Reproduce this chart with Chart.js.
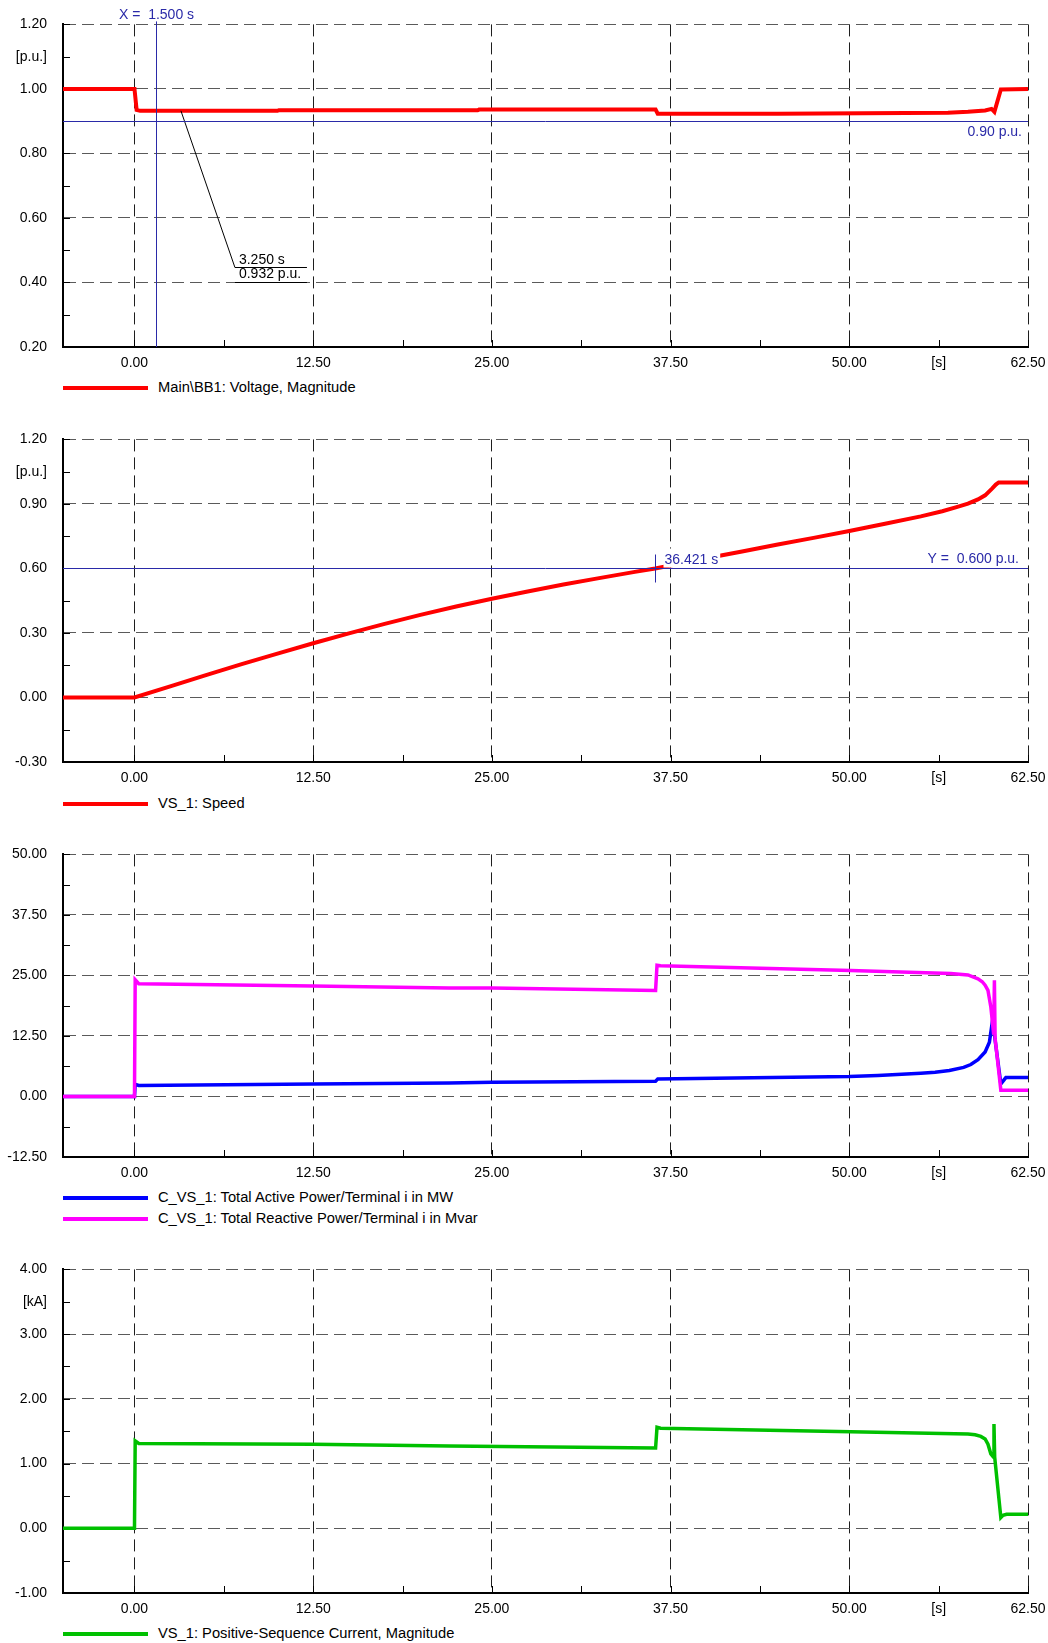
<!DOCTYPE html>
<html lang="en">
<head>
<meta charset="UTF-8">
<title>VS_1 Motor Start</title>
<script src="https://cdn.jsdelivr.net/npm/chart.js"></script>
<style>
    body {
        margin: 0;
        background: #fff;
        width: 1048px;
        height: 1643px;
        position: relative;
        overflow: hidden;
        font-family: 'Liberation Sans', Arial, sans-serif;
        font-size: 14px;
    }
    canvas { position: absolute; left: 0; }
    .legend {
        position: absolute;
        left: 63px;
        height: 18px;
        line-height: 18px;
        font-size: 14.7px;
        color: #000;
        white-space: nowrap;
    }
    .legend .swatch {
        display: inline-block;
        width: 85px;
        height: 4px;
        vertical-align: middle;
        margin-right: 10px;
    }
</style>
</head>
<body>
<canvas id="voltage" width="1048" height="377" style="top:0px"></canvas>
<canvas id="speed" width="1048" height="377" style="top:415px"></canvas>
<canvas id="power" width="1048" height="357" style="top:830px"></canvas>
<canvas id="current" width="1048" height="378" style="top:1245px"></canvas>

<script>
// time axis
const timeMajor = [0, 12.5, 25, 37.5, 50, 62.5];
const timeUnitAt = 56.25;

// Main\BB1 voltage [p.u.]
const voltageT = [-5, 0, 0.15, 0.4, 10, 10.1, 24, 24.1, 36.45, 36.6, 45, 56.9, 58.3, 59.5, 59.95, 60.15, 60.6, 62.5];
const voltageV = [1.0, 1.0, 0.935, 0.932, 0.932, 0.934, 0.934, 0.936, 0.936, 0.923, 0.923, 0.926, 0.929, 0.933, 0.938, 0.929, 0.998, 1.0];
const voltageTicks = [0.2, 0.4, 0.6, 0.8, 1.0, 1.2];

// VS_1 speed [p.u.]
const speedT = [-5, 0, 2.5, 5, 7.5, 10, 12.5, 15, 17.5, 20, 22.5, 25, 27.5, 30, 32.5, 35, 36.42, 37.5, 40, 42.5, 45, 47.5, 50, 52.5, 55, 56.5, 57.5, 58.3, 59, 59.5, 60, 60.25, 60.45, 62.5];
const speedV = [0, 0, 0.052, 0.104, 0.155, 0.204, 0.252, 0.298, 0.342, 0.384, 0.423, 0.459, 0.493, 0.525, 0.555, 0.584, 0.600, 0.614, 0.647, 0.679, 0.711, 0.742, 0.774, 0.808, 0.842, 0.866, 0.885, 0.901, 0.921, 0.94, 0.972, 0.99, 1.0, 1.0];
const speedTicks = [-0.3, 0, 0.3, 0.6, 0.9, 1.2];

// C_VS_1 active power [MW]
const pT = [-5, 0, 0.05, 0.3, 12.5, 22, 25, 36.45, 36.6, 50, 52, 54, 55, 56, 57, 58, 58.5, 59, 59.5, 59.8, 60.02, 60.6, 60.95, 62.5];
const pV = [0, 0, 2.5, 2.27, 2.6, 2.8, 2.96, 3.17, 3.6, 4.13, 4.35, 4.65, 4.8, 5.0, 5.35, 6.0, 6.6, 7.6, 9.2, 11.2, 15.7, 2.6, 3.9, 3.9];

// C_VS_1 reactive power [Mvar]
const qT = [-5, 0, 0.05, 0.3, 12.5, 22, 25, 36.45, 36.55, 36.8, 50.1, 57.1, 58.3, 59.0, 59.3, 59.5, 59.7, 59.9, 60.1, 60.15, 60.2, 60.6, 62.5];
const qV = [0, 0, 24.1, 23.3, 22.8, 22.4, 22.4, 21.9, 27.1, 27.0, 26.0, 25.4, 25.1, 24.3, 23.7, 23.0, 21.9, 18.5, 12.8, 24.0, 12.0, 1.3, 1.3];
const powerTicks = [-12.5, 0, 12.5, 25, 37.5, 50];

// VS_1 positive-sequence current [kA]
const currT = [-5, 0, 0.05, 0.3, 12.5, 22, 36.45, 36.55, 36.8, 50.1, 58.3, 58.8, 59.2, 59.5, 59.7, 59.9, 60.08, 60.12, 60.17, 60.6, 60.75, 61.0, 62.5];
const currV = [0, 0, 1.35, 1.31, 1.297, 1.27, 1.24, 1.56, 1.545, 1.49, 1.457, 1.445, 1.42, 1.38, 1.3, 1.15, 1.1, 1.61, 1.1, 0.165, 0.2, 0.215, 0.215];
const currentTicks = [-1, 0, 1, 2, 3, 4];

// cursors
const cursorX = 1.5;
const voltageLimit = 0.90;
const voltageMark = { t: 3.25, v: 0.932 };
const speedLevel = 0.600;
const speedCross = 36.421;

const NAVY = '#2a2aa8';
const FONT = "'Liberation Sans', Arial, sans-serif";
Chart.defaults.font.family = FONT;
Chart.defaults.font.size = 14;
Chart.defaults.color = '#000';

const near = (a, b) => Math.abs(a - b) < 1e-6;
const isIn = (list, v) => list.some(m => near(m, v));

function withMinors(major) {
    const out = [];
    major.forEach((m, i) => {
        out.push(m);
        if (i < major.length - 1) out.push((m + major[i + 1]) / 2);
    });
    return out;
}

function series(label, t, v, color, width, order) {
    return {
        label: label,
        data: t.map((x, i) => ({ x: x, y: v[i] })),
        borderColor: color,
        backgroundColor: color,
        borderWidth: width,
        pointRadius: 0,
        tension: 0,
        order: order
    };
}

// inward minor ticks on the left and bottom axes
const axisTicks = {
    id: 'axisTicks',
    beforeDatasetsDraw(chart) {
        const { ctx, chartArea: a, scales: { x, y } } = chart;
        ctx.save();
        ctx.strokeStyle = '#000';
        ctx.lineWidth = 1;
        ctx.beginPath();
        y.ticks.forEach(t => {
            const py = Math.round(y.getPixelForValue(t.value)) + 0.5;
            ctx.moveTo(a.left, py);
            ctx.lineTo(a.left + 7, py);
        });
        x.ticks.forEach(t => {
            const px = Math.round(x.getPixelForValue(t.value)) + 0.5;
            ctx.moveTo(px, a.bottom);
            ctx.lineTo(px, a.bottom - 7);
        });
        ctx.stroke();
        ctx.restore();
    }
};

const annotations = {
    id: 'annotations',
    afterDatasetsDraw(chart, args, opts) {
        if (opts.draw) opts.draw(chart, chart.ctx);
    }
};

function seg(ctx, x1, y1, x2, y2) {
    ctx.beginPath();
    ctx.moveTo(x1, y1);
    ctx.lineTo(x2, y2);
    ctx.stroke();
}

function drawVoltageCursors(chart, ctx) {
    const { chartArea: a, scales: { x, y } } = chart;
    ctx.save();
    ctx.font = '14px ' + FONT;
    ctx.lineWidth = 1;

    // value label with leader line
    const px = x.getPixelForValue(voltageMark.t);
    const py = y.getPixelForValue(voltageMark.v);
    const ex = px + 54, ey = Math.round(py + 156) + 0.5;
    ctx.strokeStyle = '#000';
    ctx.fillStyle = '#000';
    seg(ctx, px, py, ex, ey);
    seg(ctx, ex, ey, ex + 72, ey);
    seg(ctx, ex, ey + 15, ex + 72, ey + 15);
    ctx.textAlign = 'left';
    ctx.textBaseline = 'middle';
    ctx.fillText(voltageMark.t.toFixed(3) + ' s', ex + 4, ey - 7);
    ctx.fillText(voltageMark.v.toFixed(3) + ' p.u.', ex + 4, ey + 7);

    // x cursor and limit line
    ctx.strokeStyle = NAVY;
    ctx.fillStyle = NAVY;
    const cx = Math.round(x.getPixelForValue(cursorX)) + 0.5;
    seg(ctx, cx, a.top - 3, cx, a.bottom);
    ctx.textAlign = 'center';
    ctx.fillText('X =  ' + cursorX.toFixed(3) + ' s', cx, a.top - 9);

    const ly = Math.round(y.getPixelForValue(voltageLimit)) + 0.5;
    seg(ctx, a.left, ly, a.right, ly);
    ctx.textAlign = 'right';
    ctx.fillText(voltageLimit.toFixed(2) + ' p.u.', a.right - 6, ly + 11);
    ctx.restore();
}

function drawSpeedCursors(chart, ctx) {
    const { chartArea: a, scales: { x, y } } = chart;
    ctx.save();
    ctx.font = '14px ' + FONT;
    ctx.lineWidth = 1;
    ctx.textBaseline = 'middle';

    const ly = Math.round(y.getPixelForValue(speedLevel)) + 0.5;
    const mx = Math.round(x.getPixelForValue(speedCross)) + 0.5;
    const txt = speedCross.toFixed(3) + ' s';
    const w = ctx.measureText(txt).width;
    ctx.fillStyle = '#fff';
    ctx.fillRect(mx + 8, ly - 20, w + 3, 19);

    ctx.strokeStyle = NAVY;
    ctx.fillStyle = NAVY;
    seg(ctx, a.left, ly, a.right, ly);
    seg(ctx, mx, ly - 14, mx, ly + 14);
    ctx.textAlign = 'left';
    ctx.fillText(txt, mx + 9, ly - 8);
    ctx.textAlign = 'right';
    ctx.fillText('Y =  ' + speedLevel.toFixed(3) + ' p.u.', a.right - 9, ly - 9);
    ctx.restore();
}

function makePanel(id, datasets, yMajor, unit, draw) {
    const yAll = withMinors(yMajor);
    const tAll = withMinors(timeMajor);
    const yMin = yMajor[0], yMax = yMajor[yMajor.length - 1];
    const chart = new Chart(document.getElementById(id), {
        type: 'line',
        data: { datasets: datasets },
        options: {
            responsive: false,
            animation: false,
            devicePixelRatio: 1,
            layout: { padding: { top: 24, right: 20, left: 0, bottom: 0 } },
            plugins: {
                legend: { display: false },
                tooltip: { enabled: false },
                annotations: { draw: draw }
            },
            scales: {
                x: {
                    type: 'linear',
                    min: -5,
                    max: 62.5,
                    afterBuildTicks: s => { s.ticks = tAll.map(v => ({ value: v })); },
                    afterFit: s => { s.height = 30; s.paddingLeft = 0; s.paddingRight = 0; },
                    grid: {
                        drawTicks: false,
                        lineWidth: 1,
                        color: c => (c.tick && isIn(timeMajor, c.tick.value)) ? '#1e1e1e' : 'rgba(0,0,0,0)'
                    },
                    border: { display: true, color: '#000', width: 2, dash: [12, 6] },
                    ticks: {
                        autoSkip: false,
                        maxRotation: 0,
                        padding: 8,
                        color: '#000',
                        callback: v => isIn(timeMajor, v) ? v.toFixed(2) : (near(v, timeUnitAt) ? '[s]' : '')
                    }
                },
                y: {
                    type: 'linear',
                    min: yMin,
                    max: yMax,
                    afterBuildTicks: s => { s.ticks = yAll.map(v => ({ value: v })); },
                    afterFit: s => { s.width = 63; },
                    grid: {
                        drawTicks: false,
                        lineWidth: 1,
                        color: c => (c.tick && isIn(yMajor, c.tick.value) && !near(c.tick.value, yMin)) ? '#5a5a5a' : 'rgba(0,0,0,0)'
                    },
                    border: { display: true, color: '#000', width: 2, dash: [12, 6] },
                    ticks: {
                        autoSkip: false,
                        padding: 16,
                        color: '#000',
                        callback: v => isIn(yMajor, v) ? v.toFixed(2) : (unit && near(v, unit.at) ? unit.text : '')
                    }
                }
            }
        },
        plugins: [axisTicks, annotations]
    });
    return chart;
}

function addLegend(chart, top) {
    chart.data.datasets.forEach((ds, i) => {
        const row = document.createElement('div');
        row.className = 'legend';
        row.style.top = (top + i * 21) + 'px';
        const sw = document.createElement('span');
        sw.className = 'swatch';
        sw.style.background = ds.borderColor;
        row.appendChild(sw);
        row.appendChild(document.createTextNode(ds.label));
        document.body.appendChild(row);
    });
}

const voltageChart = makePanel('voltage',
    [series('Main\\BB1: Voltage, Magnitude', voltageT, voltageV, '#ff0000', 4, 0)],
    voltageTicks, { at: 1.1, text: '[p.u.]' }, drawVoltageCursors);
addLegend(voltageChart, 378);

const speedChart = makePanel('speed',
    [series('VS_1: Speed', speedT, speedV, '#ff0000', 4, 0)],
    speedTicks, { at: 1.05, text: '[p.u.]' }, drawSpeedCursors);
addLegend(speedChart, 794);

const powerChart = makePanel('power',
    [series('C_VS_1: Total Active Power/Terminal i in MW', pT, pV, '#0000ff', 3.5, 1),
     series('C_VS_1: Total Reactive Power/Terminal i in Mvar', qT, qV, '#ff00ff', 3.5, 0)],
    powerTicks, null, null);
addLegend(powerChart, 1188);

const currentChart = makePanel('current',
    [series('VS_1: Positive-Sequence Current, Magnitude', currT, currV, '#00c000', 3.5, 0)],
    currentTicks, { at: 3.5, text: '[kA]' }, null);
addLegend(currentChart, 1624);
</script>
</body>
</html>
